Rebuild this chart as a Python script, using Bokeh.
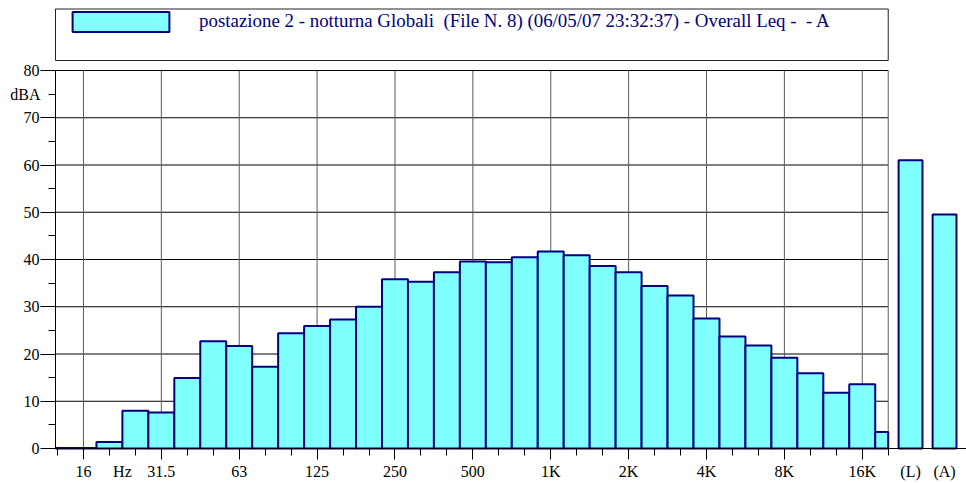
import numpy as np
from bokeh.plotting import figure
from bokeh.models import (Range1d, FixedTicker, Legend, LegendItem, Label,
                          BoxAnnotation, ColumnDataSource)
from bokeh.embed import file_html
from bokeh.resources import INLINE

# ---------------- data ----------------
BANDS = ["12.5", "16", "20", "25", "31.5", "40", "50", "63", "80", "100", "125",
         "160", "200", "250", "315", "400", "500", "630", "800", "1K", "1.25K",
         "1.6K", "2K", "2.5K", "3.15K", "4K", "5K", "6.3K", "8K", "10K", "12.5K",
         "16K", "20K"]
LEVELS = [0.1, 0.1, 1.4, 8.0, 7.6, 14.9, 22.7, 21.7, 17.3, 24.4, 25.9,
          27.3, 30.0, 35.8, 35.3, 37.3, 39.6, 39.4, 40.5, 41.7, 40.9,
          38.6, 37.3, 34.4, 32.4, 27.5, 23.7, 21.8, 19.2, 15.9, 11.8,
          13.6, 3.5]
OCTAVE_LABELS = ["16", "31.5", "63", "125", "250", "500", "1K", "2K", "4K", "8K", "16K"]
OVERALL_LABELS = ["(L)", "(A)"]
OVERALL_LEVELS = [61.0, 49.5]
Y_TICKS = [0, 10, 20, 30, 40, 50, 60, 70, 80]
Y_MINOR = [5, 15, 25, 35, 45, 55, 65, 75]
Y_UNIT = "dBA"
X_UNIT = "Hz"
LEGEND_TEXT = "postazione 2 - notturna Globali  (File N. 8) (06/05/07 23:32:37) - Overall Leq -  - A"

# ---------------- layout (pixel geometry of the canvas) ----------------
W, H = 966, 483
PX_BAND = 25.96          # pixels per third-octave band
PX_DB = 378 / 80.0       # pixels per dB
X0_PX, Y0_PX = 57, 448   # canvas pixel of band index 0 / of 0 dB
AXIS_PX = 55             # canvas x of the left axis line


def xd(px):
    return (px - X0_PX) / PX_BAND


def yd(py):
    return (Y0_PX - py) / PX_DB


X_AX = xd(AXIS_PX)
Y_TOP = Y_TICKS[-1]
SERIF = "Times New Roman"
FILL = "#80FFFF"
EDGE = "#000080"

idx = np.arange(len(BANDS), dtype=float)
LAST = idx[-1]
octave_idx = [float(BANDS.index(l)) for l in OCTAVE_LABELS]

p = figure(width=W, height=H, output_backend="svg", toolbar_location=None,
           x_range=Range1d(xd(0), xd(W)), y_range=Range1d(yd(H), yd(0)),
           min_border_left=0, min_border_right=0, min_border_top=0,
           min_border_bottom=0)
p.outline_line_color = None
p.xgrid.visible = False
p.ygrid.visible = False
p.background_fill_color = "white"
p.border_fill_color = "white"

# grid and frame lines (limited to the spectrum area)
hy = [t for t in Y_TICKS if 0 < t < Y_TOP]
p.segment(x0=[X_AX] * len(hy), x1=[LAST] * len(hy), y0=hy, y1=hy,
          line_color="#000000", line_width=1)
p.segment(x0=octave_idx, x1=octave_idx, y0=[0] * len(octave_idx),
          y1=[Y_TOP] * len(octave_idx), line_color="#5a5a5a", line_width=1)
p.segment(x0=[X_AX], x1=[LAST], y0=[Y_TOP], y1=[Y_TOP], line_color="#000000", line_width=1)
p.segment(x0=[LAST], x1=[LAST], y0=[0], y1=[Y_TOP], line_color="#5a5a5a", line_width=1)

# spectrum bars (the last band is cut at the end of the spectrum area)
src = ColumnDataSource(dict(left=np.maximum(idx - 0.5, X_AX), right=np.minimum(idx + 0.5, LAST),
                            top=LEVELS, bottom=[0] * len(LEVELS)))
bars = p.quad(left="left", right="right", top="top", bottom="bottom", source=src,
              fill_color=FILL, line_color=EDGE, line_width=2)

# overall bars
ov_x = LAST + 0.86 + 1.31 * np.arange(len(OVERALL_LEVELS))
ov_w = 0.92
src2 = ColumnDataSource(dict(left=ov_x - ov_w / 2, right=ov_x + ov_w / 2,
                             top=OVERALL_LEVELS, bottom=[0] * len(OVERALL_LEVELS)))
p.quad(left="left", right="right", top="top", bottom="bottom", source=src2,
       fill_color=FILL, line_color=EDGE, line_width=2)

# axes (placed at fixed data locations)
xa = p.xaxis[0]
xa.fixed_location = 0
xa.bounds = (X_AX, xd(W))
xa.ticker = FixedTicker(ticks=octave_idx, minor_ticks=list(idx))
xa.major_label_overrides = {t: l for t, l in zip(octave_idx, OCTAVE_LABELS)}
xa.major_tick_out = 11
xa.major_tick_in = 0
xa.minor_tick_out = 7
xa.minor_tick_in = 0
xa.major_label_standoff = 3
xa.major_label_text_font = SERIF
xa.major_label_text_font_size = "16px"
xa.major_label_text_color = "black"
xa.axis_line_color = "black"
xa.major_tick_line_color = "black"
xa.minor_tick_line_color = "black"

ya = p.yaxis[0]
ya.fixed_location = X_AX
ya.ticker = FixedTicker(ticks=Y_TICKS, minor_ticks=Y_MINOR)
ya.bounds = (0, Y_TOP)
ya.major_tick_out = 15
ya.major_tick_in = 0
ya.minor_tick_out = 7
ya.minor_tick_in = 0
ya.major_label_standoff = 1
ya.major_label_text_font = SERIF
ya.major_label_text_font_size = "16px"
ya.major_label_text_color = "black"
ya.axis_line_color = "black"
ya.major_tick_line_color = "black"
ya.minor_tick_line_color = "black"

# extra texts on the axes
lab_y = yd(Y0_PX + 11 + 3)
p.add_layout(Label(x=BANDS.index("20") + 0.5, y=lab_y, text=X_UNIT, text_align="center",
                   text_baseline="top", text_font=SERIF, text_font_size="16px",
                   text_color="black"))
for x, t in zip(ov_x, OVERALL_LABELS):
    p.add_layout(Label(x=x, y=lab_y, text=t, text_align="center", text_baseline="top",
                       text_font=SERIF, text_font_size="16px", text_color="black"))
p.add_layout(Label(x=xd(AXIS_PX - 15), y=Y_MINOR[-1], text=Y_UNIT, text_align="right",
                   text_baseline="middle", text_font=SERIF, text_font_size="16px",
                   text_color="black"))

# legend box + legend
p.add_layout(BoxAnnotation(left=X_AX, right=LAST, bottom=yd(60), top=yd(8.5),
                           fill_alpha=0, line_color="#222222", line_width=1, line_alpha=1))
legend = Legend(items=[LegendItem(label=LEGEND_TEXT, renderers=[bars])],
                location=(60, H - 8.5 - 25), glyph_width=121, glyph_height=25,
                label_standoff=18, padding=0, margin=0, spacing=0,
                border_line_alpha=0, background_fill_alpha=0,
                label_text_font="Liberation Serif", label_text_font_size="18.9px",
                label_text_color=EDGE)
p.add_layout(legend)

open("out.html", "w").write(file_html(p, INLINE))
